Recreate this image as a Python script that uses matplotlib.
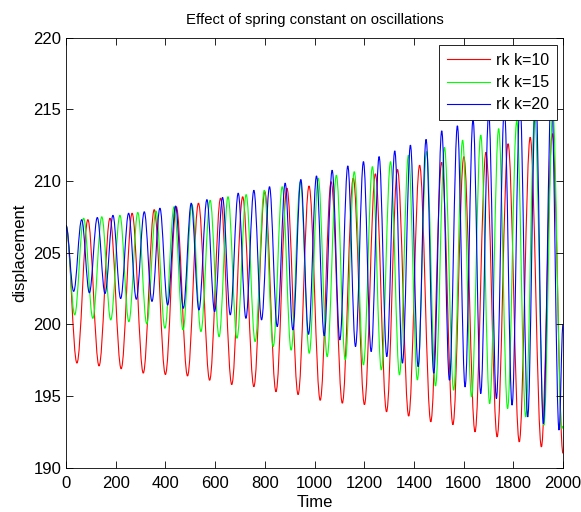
import numpy as np
import matplotlib
matplotlib.use("Agg")
import matplotlib.pyplot as plt
from matplotlib.path import Path
from matplotlib.patches import PathPatch
from matplotlib.lines import Line2D

plt.rcParams["font.family"] = ["Liberation Sans", "DejaVu Sans"]

# initial displacement shared by all three runs
t_start = 0
y_start = 206.9
t_end = 2000

# rk k=10: trough/peak times and values
red_trough_t = [44, 133, 222, 311, 400, 489, 578, 667, 756, 845, 934, 1023, 1112,
                1201, 1290, 1379, 1468, 1557, 1646, 1735, 1824, 1913]
red_trough_y = [197.3, 197.1, 196.9, 196.6, 196.5, 196.4, 196.1, 195.8, 195.65, 195.3,
                195.1, 194.7, 194.5, 194.4, 193.9, 193.6, 193.2, 193.0, 192.5, 192.15,
                191.8, 191.45]
red_peak_t = [88, 177, 266, 355, 444, 533, 622, 711, 800, 889, 978, 1067, 1156, 1245,
              1334, 1423, 1512, 1601, 1690, 1779, 1868, 1957]
red_peak_y = [207.3, 207.4, 207.75, 208.0, 208.2, 208.45, 208.8, 208.9, 209.25, 209.5,
              209.65, 209.95, 210.2, 210.5, 210.8, 211.1, 211.3, 211.7, 212.0, 212.6,
              213.05, 213.3]
red_end = 191.0

# rk k=15
green_trough_t = [35, 108, 180, 253, 325, 398, 471, 543, 616, 688, 761, 834, 906, 979,
                  1051, 1124, 1197, 1269, 1342, 1414, 1487, 1560, 1632, 1705, 1777,
                  1850, 1923, 1995]
green_trough_y = [200.66, 200.42, 200.31, 200.19, 200.03, 199.73, 199.61, 199.5, 199.14,
                  199.03, 198.8, 198.45, 198.2, 197.98, 197.75, 197.52, 197.17, 196.82,
                  196.47, 196.12, 195.7, 195.4, 194.94, 194.47, 194.12, 193.54, 192.96,
                  192.73]
green_peak_t = [71, 144, 217, 289, 362, 435, 507, 580, 652, 725, 798, 870, 943, 1015,
                1088, 1160, 1233, 1306, 1378, 1451, 1523, 1596, 1669, 1741, 1814, 1886,
                1959]
green_peak_y = [207.4, 207.5, 207.6, 207.8, 207.9, 208.2, 208.35, 208.65, 208.9, 209.05,
                209.35, 209.6, 209.95, 210.2, 210.4, 210.65, 211.0, 211.35, 211.8, 212.05,
                212.35, 212.85, 213.2, 213.65, 214.2, 214.6, 214.9]
green_end = 192.9

# rk k=20
blue_trough_t = [31, 94, 157, 220, 283, 346, 409, 472, 535, 598, 661, 724, 787, 850, 913,
                 976, 1039, 1102, 1165, 1228, 1291, 1354, 1417, 1480, 1543, 1606, 1669,
                 1732, 1795, 1858, 1921, 1984]
blue_trough_y = [202.3, 202.2, 202.15, 201.8, 201.75, 201.6, 201.35, 201.12, 201.0,
                 200.89, 200.66, 200.42, 200.31, 199.84, 199.61, 199.3, 199.2, 198.91,
                 198.45, 198.1, 197.75, 197.29, 197.05, 196.59, 196.1, 195.63, 195.17,
                 194.82, 194.36, 193.54, 193.07, 192.62]
blue_peak_t = [63, 126, 189, 252, 315, 378, 441, 504, 567, 630, 693, 756, 819, 882, 945,
               1008, 1071, 1134, 1197, 1260, 1323, 1386, 1449, 1512, 1575, 1638, 1701,
               1764, 1827, 1890, 1953]
blue_peak_y = [207.3, 207.45, 207.6, 207.75, 207.85, 208.1, 208.25, 208.45, 208.7, 208.85,
               209.15, 209.35, 209.6, 209.85, 210.1, 210.35, 210.75, 211.05, 211.35, 211.7,
               212.1, 212.5, 212.9, 213.5, 213.85, 214.3, 214.7, 215.1, 215.5, 216.0, 216.4]
blue_end = 200.0

labels = ["rk k=10", "rk k=15", "rk k=20"]
colors = ["#ff0000", "#00ff00", "#0000ff"]


def series(tr_t, tr_y, pk_t, pk_y, y_end):
    t = np.concatenate([[t_start], tr_t, pk_t, [t_end]])
    y = np.concatenate([[y_start], tr_y, pk_y, [y_end]])
    o = np.argsort(t, kind="stable")
    return t[o], y[o]


def smooth_path(t, y, h=0.36):
    # cubic bezier between extrema, flat tangents at each turning point
    verts = [(t[0], y[0])]
    codes = [Path.MOVETO]
    for i in range(len(t) - 1):
        dt = t[i + 1] - t[i]
        verts += [(t[i] + h * dt, y[i]), (t[i + 1] - h * dt, y[i + 1]), (t[i + 1], y[i + 1])]
        codes += [Path.CURVE4] * 3
    return Path(verts, codes)


runs = [series(red_trough_t, red_trough_y, red_peak_t, red_peak_y, red_end),
        series(green_trough_t, green_trough_y, green_peak_t, green_peak_y, green_end),
        series(blue_trough_t, blue_trough_y, blue_peak_t, blue_peak_y, blue_end)]

fig = plt.figure(figsize=(5.81, 5.12), dpi=100)
ax = fig.add_axes([66 / 581, 1 - 467.7 / 512, 497 / 581, 430.1 / 512])
handles = []
for (t, y), lab, c in zip(runs, labels, colors):
    ax.add_patch(PathPatch(smooth_path(t, y), fill=False, edgecolor=c, lw=0.8))
    handles.append(Line2D([], [], color=c, lw=0.8, label=lab))

ax.set_xlim(0, 2000)
ax.set_ylim(190, 220)
ax.set_xticks(np.arange(0, 2001, 200))
ax.set_yticks(np.arange(190, 221, 5))
ax.tick_params(direction="in", top=True, right=True, labelsize=12, length=5, width=0.6)
ax.tick_params(axis="x", pad=6)
for s in ax.spines.values():
    s.set_linewidth(0.6)
ax.set_title("Effect of spring constant on oscillations", fontsize=10.7, pad=10)
ax.set_xlabel("Time", fontsize=12, labelpad=3)
ax.set_ylabel("displacement", fontsize=12, labelpad=4)
leg = ax.legend(handles=handles, loc="upper right",
                bbox_to_anchor=(1 - 6 / 497, 1 - 7.4 / 430),
                borderaxespad=0, fancybox=False, framealpha=1, edgecolor="black",
                fontsize=11.5, handlelength=2.7, handletextpad=0.35, labelspacing=0.45,
                borderpad=0.5)
leg.get_frame().set_linewidth(0.6)

fig.savefig("out.png", dpi=100)
